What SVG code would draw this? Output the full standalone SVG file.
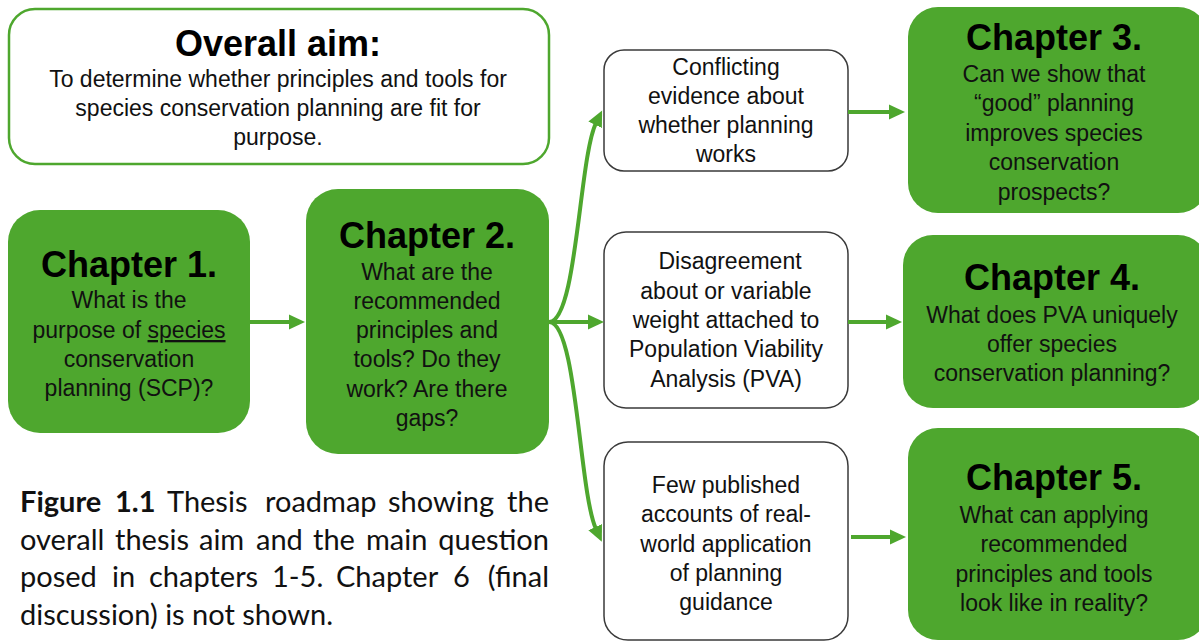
<svg xmlns="http://www.w3.org/2000/svg" width="1199" height="643" viewBox="0 0 1199 643">
<style>
.g{fill:#4EA72E}
.w{fill:#fff;stroke:#3a3a3a;stroke-width:1.5}
.aim{fill:#fff;stroke:#4EA72E;stroke-width:2.5}
.t{font-family:"Liberation Sans",Arial,sans-serif;font-weight:bold;font-size:36px;fill:#000;text-anchor:middle}
.b{font-family:"Liberation Sans",Arial,sans-serif;font-size:23px;fill:#111;text-anchor:middle}
.c{fill:none;stroke:#4EA72E;stroke-width:4}
.cap{font-family:Lato,"Liberation Sans",sans-serif;font-size:29px;fill:#111}
</style>
<defs>
<marker id="ah" markerUnits="userSpaceOnUse" markerWidth="17" markerHeight="17" viewBox="0 0 17 17" refX="2" refY="8.5" orient="auto">
<path d="M0,1 L16,8.5 L0,16 Z" fill="#4EA72E"/>
</marker>
</defs>
<rect width="1199" height="643" fill="#fff"/>
<g id="aim">
<rect class="aim" x="9" y="9" width="540" height="155" rx="26"/>
<text class="t" x="278" y="56">Overall aim:</text>
<text class="b" x="278" y="87">To determine whether principles and tools for</text>
<text class="b" x="278" y="116">species conservation planning are fit for</text>
<text class="b" x="278" y="145">purpose.</text>
</g>
<g id="ch1">
<rect class="g" x="8" y="210" width="242" height="223" rx="32"/>
<text class="t" x="129" y="277">Chapter 1.</text>
<text class="b" x="129" y="308">What is the</text>
<text class="b" x="129" y="338">purpose of <tspan text-decoration="underline">species</tspan></text>
<text class="b" x="129" y="367">conservation</text>
<text class="b" x="129" y="396">planning (SCP)?</text>
</g>
<g id="ch2">
<rect class="g" x="306" y="189" width="243" height="265" rx="32"/>
<text class="t" x="427" y="248">Chapter 2.</text>
<text class="b" x="427" y="280">What are the</text>
<text class="b" x="427" y="309">recommended</text>
<text class="b" x="427" y="338">principles and</text>
<text class="b" x="427" y="367">tools? Do they</text>
<text class="b" x="427" y="397">work? Are there</text>
<text class="b" x="427" y="426">gaps?</text>
</g>
<g id="boxA">
<rect class="w" x="604" y="50" width="244" height="121" rx="20"/>
<text class="b" x="726" y="75">Conflicting</text>
<text class="b" x="726" y="104">evidence about</text>
<text class="b" x="726" y="133">whether planning</text>
<text class="b" x="726" y="162">works</text>
</g>
<g id="boxB">
<rect class="w" x="604" y="232" width="244" height="176" rx="22"/>
<text class="b" x="730" y="269">Disagreement</text>
<text class="b" x="726" y="299">about or variable</text>
<text class="b" x="726" y="328">weight attached to</text>
<text class="b" x="726" y="357">Population Viability</text>
<text class="b" x="726" y="387">Analysis (PVA)</text>
</g>
<g id="boxC">
<rect class="w" x="604" y="442" width="244" height="198" rx="24"/>
<text class="b" x="726" y="493">Few published</text>
<text class="b" x="726" y="522">accounts of real-</text>
<text class="b" x="726" y="552">world application</text>
<text class="b" x="726" y="581">of planning</text>
<text class="b" x="726" y="610">guidance</text>
</g>
<g id="ch3">
<rect class="g" x="908" y="7" width="300" height="206" rx="30"/>
<text class="t" x="1054" y="50">Chapter 3.</text>
<text class="b" x="1054" y="82">Can we show that</text>
<text class="b" x="1054" y="111">“good” planning</text>
<text class="b" x="1054" y="141">improves species</text>
<text class="b" x="1054" y="170">conservation</text>
<text class="b" x="1054" y="200">prospects?</text>
</g>
<g id="ch4">
<rect class="g" x="903" y="235" width="305" height="173" rx="30"/>
<text class="t" x="1052" y="290">Chapter 4.</text>
<text class="b" x="1052" y="323">What does PVA uniquely</text>
<text class="b" x="1052" y="352">offer species</text>
<text class="b" x="1052" y="381">conservation planning?</text>
</g>
<g id="ch5">
<rect class="g" x="908" y="428" width="300" height="212" rx="30"/>
<text class="t" x="1054" y="490">Chapter 5.</text>
<text class="b" x="1054" y="523">What can applying</text>
<text class="b" x="1054" y="552">recommended</text>
<text class="b" x="1054" y="582">principles and tools</text>
<text class="b" x="1054" y="611">look like in reality?</text>
</g>
<g id="connectors">
<path class="c" d="M250,322 H291" marker-end="url(#ah)"/>
<path class="c" d="M549,322 C577,322 579,158 596,123" marker-end="url(#ah)"/>
<path class="c" d="M549,322 H590" marker-end="url(#ah)"/>
<path class="c" d="M549,322 C577,322 579,492 596,529" marker-end="url(#ah)"/>
<path class="c" d="M848,112 H891" marker-end="url(#ah)"/>
<path class="c" d="M848,322 H888" marker-end="url(#ah)"/>
<path class="c" d="M851,537 H892" marker-end="url(#ah)"/>
</g>
<g id="caption">
<text class="cap" y="512"><tspan x="20" font-weight="bold">Figure</tspan><tspan x="115" font-weight="bold">1.1</tspan><tspan x="167">Thesis</tspan><tspan x="265">roadmap</tspan><tspan x="388">showing</tspan><tspan x="549" text-anchor="end">the</tspan></text>
<text class="cap" y="550"><tspan x="20">overall</tspan><tspan x="115">thesis</tspan><tspan x="199">aim</tspan><tspan x="256">and</tspan><tspan x="313">the</tspan><tspan x="366">main</tspan><tspan x="549" text-anchor="end">question</tspan></text>
<text class="cap" y="587"><tspan x="20">posed</tspan><tspan x="112">in</tspan><tspan x="149">chapters</tspan><tspan x="272">1-5.</tspan><tspan x="336">Chapter</tspan><tspan x="453">6</tspan><tspan x="549" text-anchor="end">(final</tspan></text>
<text class="cap" x="20" y="625">discussion) is not shown.</text>
</g>
</svg>
